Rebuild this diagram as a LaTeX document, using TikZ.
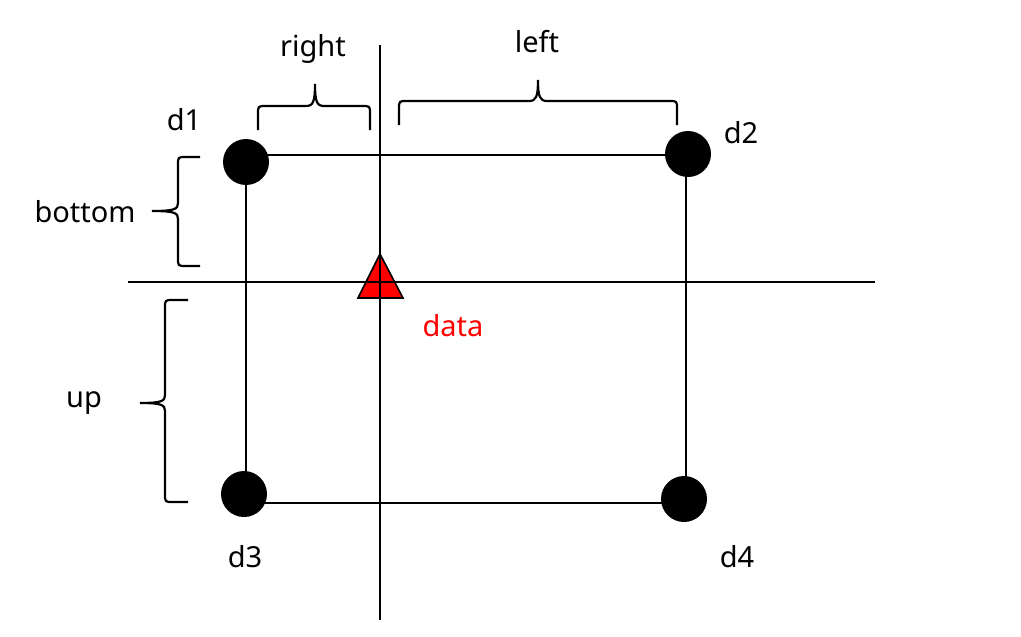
\documentclass[tikz,border=0pt]{standalone}
\usepackage{fontspec}
\setmainfont{Noto Sans}
\begin{document}
\begin{tikzpicture}[x=1pt,y=-1pt,
  thinline/.style={line width=1.3pt},
  axis/.style={line width=2.3pt},
  bracestyle/.style={line width=2.2pt},
  dot/.style={circle,fill=black,minimum size=46pt,inner sep=0pt},
  lbl/.style={font=\fontsize{29}{34}\selectfont,inner sep=0pt}]
\useasboundingbox (0,0) rectangle (1021,637);
% corners of the rectangle
\coordinate (c1) at (246,155);
\coordinate (c2) at (686,155);
\coordinate (c3) at (246,503);
\coordinate (c4) at (686,503);
\draw[thinline] (c1) -- (c2) -- (c4) -- (c3) -- cycle;
% axes
\coordinate (vt) at (380,45);
\coordinate (vb) at (380,620);
\coordinate (hl) at (128,282);
\coordinate (hr) at (875,282);
\draw[axis] (vt) -- (vb);
\draw[axis] (hl) -- (hr);
% dots
\node[dot] (d1) at (246,162) {};
\node[dot] (d2) at (688,154) {};
\node[dot] (d3) at (244,494) {};
\node[dot] (d4) at (684,499) {};
% data triangle
\draw[line width=1.6pt,fill=red] (380,254) -- (403,298) -- (358,298) -- cycle;
\draw[axis] (358,282) -- (403,282);
\draw[axis] (380,250) -- (380,300);
% labels
\node[lbl] (ld1) at (184,120) {d1};
\node[lbl] (ld2) at (741,133) {d2};
\node[lbl] (ld3) at (245,557) {d3};
\node[lbl] (ld4) at (737,557) {d4};
\node[lbl,text=red] (ldata) at (453,326) {data};
\node[lbl] (lright) at (313,49) {right};
\node[lbl] (lleft) at (537,42) {left};
\node[lbl] (lbottom) at (85,212) {bottom};
\node[lbl] (lup) at (84,403) {up};
% braces
\draw[bracestyle] (258,130) -- (258,114) .. controls (258,106) .. (266,106) -- (306,106)
  .. controls (313,106) and (315,102) .. (315,84)
  .. controls (315,102) and (317,106) .. (324,106) -- (362,106)
  .. controls (370,106) .. (370,114) -- (370,130);
\draw[bracestyle] (399,125) -- (399,109) .. controls (399,101) .. (407,101) -- (529,101)
  .. controls (536,101) and (538,97) .. (538,80)
  .. controls (538,97) and (540,101) .. (547,101) -- (669,101)
  .. controls (677,101) .. (677,109) -- (677,125);
\draw[bracestyle] (200,157) -- (186,157) .. controls (178,157) .. (178,165) -- (178,203)
  .. controls (178,209) and (175,211) .. (152,211)
  .. controls (175,211) and (178,213) .. (178,219) -- (178,258)
  .. controls (178,266) .. (186,266) -- (200,266);
\draw[bracestyle] (188,300) -- (173,300) .. controls (165,300) .. (165,308) -- (165,395)
  .. controls (165,401) and (162,403) .. (140,403)
  .. controls (162,403) and (165,405) .. (165,411) -- (165,494)
  .. controls (165,502) .. (173,502) -- (188,502);
\end{tikzpicture}
\end{document}
